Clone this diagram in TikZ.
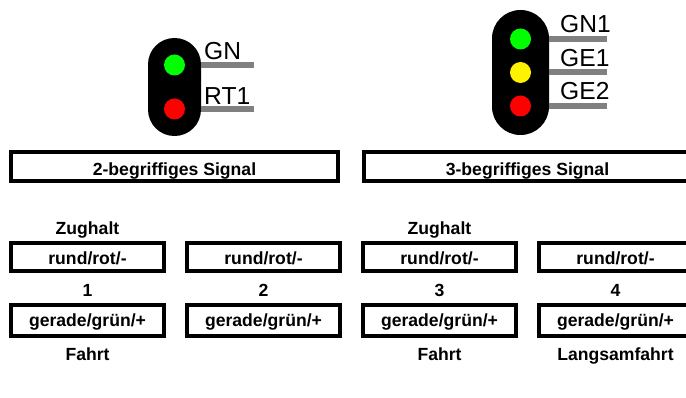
\documentclass[tikz,border=0pt]{standalone}
\usepackage{fontspec}
\setmainfont{Liberation Sans}
\begin{document}
\begin{tikzpicture}
		[x=1pt, y=-1pt, node distance={176pt},
		kasten/.style = {draw, line width=4.4pt, minimum width=153pt, minimum height=28pt, inner sep=0pt, text height=19pt, text depth=3pt, font=\fontsize{17.6}{20}\selectfont\bfseries},
		unten/.style = {kasten, minimum height=30.5pt, text height=15.4pt},
		titel/.style = {kasten, minimum width=327pt, minimum height=29pt, text height=20.5pt},
		schrift/.style = {inner sep=0pt, text height=12.4pt, text depth=3.6pt, font=\fontsize{17.6}{20}\selectfont\bfseries},
		signal/.style = {fill=black, minimum width=53pt, inner sep=0pt},
		lampe/.style = {circle, minimum size=21pt, inner sep=0pt},
		ader/.style = {draw=gray, line width=6pt},
		aderlabel/.style = {anchor=base west, inner sep=0pt, font=\fontsize{24.6}{28}\selectfont}]
	\useasboundingbox (0,0) rectangle (686,398);
	\node[signal, minimum height=98pt, rounded corners=26.4pt] (sig2) at (174.5,87) {};
	\node[signal, minimum width=57pt, minimum height=125pt, rounded corners=28.4pt] (sig3) at (520.5,72.5) {};
	\node[lampe, fill=green] (gn) at (174.5,65) {};
	\node[lampe, fill=red] (rt1) at (174.5,109) {};
	\node[lampe, fill=green] (gn1) at (520.5,39) {};
	\node[lampe, fill=yellow] (ge1) at (520.5,72.5) {};
	\node[lampe, fill=red] (ge2) at (520.5,106) {};
	\coordinate (gnend) at (254,65);
	\coordinate (rt1end) at (254,109);
	\coordinate (gn1end) at (607,39);
	\coordinate (ge1end) at (607,72.5);
	\coordinate (ge2end) at (607,106);
	\draw[ader] (gn -| sig2.east) -- (gnend);
	\draw[ader] (rt1 -| sig2.east) -- (rt1end);
	\draw[ader] (gn1 -| sig3.east) -- (gn1end);
	\draw[ader] (ge1 -| sig3.east) -- (ge1end);
	\draw[ader] (ge2 -| sig3.east) -- (ge2end);
	\node[aderlabel] (tgn) at (204,60) {GN};
	\node[aderlabel] (trt1) at (204,105) {RT1};
	\node[aderlabel] (tgn1) at (560,33) {GN1};
	\node[aderlabel] (tge1) at (560,67) {GE1};
	\node[aderlabel] (tge2) at (560,100) {GE2};
	\node[titel] (t2) at (174.5,166.5) {2-begriffiges Signal};
	\node[titel] (t3) at (527.5,166.5) {3-begriffiges Signal};
	\node[kasten] (r1) at (87.5,257) {rund/rot/-};
	\node[kasten] (r2) [right of = r1] {rund/rot/-};
	\node[kasten] (r3) [right of = r2] {rund/rot/-};
	\node[kasten] (r4) [right of = r3] {rund/rot/-};
	\node[unten] (g1) at (87.5,320.5) {gerade/grün/+};
	\node[unten] (g2) [right of = g1] {gerade/grün/+};
	\node[unten] (g3) [right of = g2] {gerade/grün/+};
	\node[unten] (g4) [right of = g3] {gerade/grün/+};
	\node[schrift] (n1) at (87.5,292.4) {1};
	\node[schrift] (n2) [right of = n1] {2};
	\node[schrift] (n3) [right of = n2] {3};
	\node[schrift] (n4) [right of = n3] {4};
	\node[schrift] (z1) at (87.5,230) {Zughalt};
	\node[schrift] (z3) at (439.5,230) {Zughalt};
	\node[schrift] (f1) at (87.5,356) {Fahrt};
	\node[schrift] (f3) at (439.5,356) {Fahrt};
	\node[schrift] (f4) at (615.5,356) {Langsamfahrt};
\end{tikzpicture}
\end{document}
